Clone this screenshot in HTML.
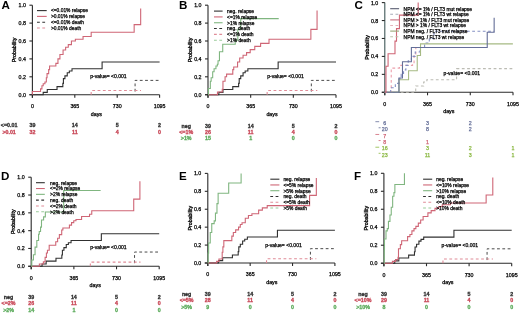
<!DOCTYPE html>
<html><head><meta charset="utf-8"><style>
html,body{margin:0;padding:0;background:#fff;width:520px;height:313px;overflow:hidden}
svg{display:block;will-change:transform}
text{font-family:"Liberation Sans", sans-serif}
</style></head><body>
<svg width="520" height="313" viewBox="0 0 520 313">
<rect width="520" height="313" fill="#fff"/>
<text x="1.6" y="9.48" font-size="11.6" text-anchor="start" fill="#000" stroke="#000" stroke-width="0" font-weight="bold">A</text>
<line x1="32.4" y1="5.2" x2="32.4" y2="97.7" stroke="#2a2a2a" stroke-width="1.1"/>
<line x1="29.4" y1="94.7" x2="32.4" y2="94.7" stroke="#2a2a2a" stroke-width="1.1"/>
<text x="25.9" y="96.68" font-size="5.3" text-anchor="end" fill="#000" stroke="#000" stroke-width="0.25" font-weight="normal">0.0</text>
<line x1="29.4" y1="76.8" x2="32.4" y2="76.8" stroke="#2a2a2a" stroke-width="1.1"/>
<text x="25.9" y="78.78" font-size="5.3" text-anchor="end" fill="#000" stroke="#000" stroke-width="0.25" font-weight="normal">0.2</text>
<line x1="29.4" y1="58.9" x2="32.4" y2="58.9" stroke="#2a2a2a" stroke-width="1.1"/>
<text x="25.9" y="60.88" font-size="5.3" text-anchor="end" fill="#000" stroke="#000" stroke-width="0.25" font-weight="normal">0.4</text>
<line x1="29.4" y1="41" x2="32.4" y2="41" stroke="#2a2a2a" stroke-width="1.1"/>
<text x="25.9" y="42.98" font-size="5.3" text-anchor="end" fill="#000" stroke="#000" stroke-width="0.25" font-weight="normal">0.6</text>
<line x1="29.4" y1="23.1" x2="32.4" y2="23.1" stroke="#2a2a2a" stroke-width="1.1"/>
<text x="25.9" y="25.08" font-size="5.3" text-anchor="end" fill="#000" stroke="#000" stroke-width="0.25" font-weight="normal">0.8</text>
<line x1="29.4" y1="5.2" x2="32.4" y2="5.2" stroke="#2a2a2a" stroke-width="1.1"/>
<text x="25.9" y="7.18" font-size="5.3" text-anchor="end" fill="#000" stroke="#000" stroke-width="0.25" font-weight="normal">1.0</text>
<line x1="29.4" y1="94.7" x2="159.6" y2="94.7" stroke="#2a2a2a" stroke-width="1.1"/>
<line x1="32.4" y1="94.7" x2="32.4" y2="97.7" stroke="#2a2a2a" stroke-width="1.1"/>
<text x="32.4" y="108.13" font-size="5.3" text-anchor="middle" fill="#000" stroke="#000" stroke-width="0.25" font-weight="normal">0</text>
<line x1="74.8" y1="94.7" x2="74.8" y2="97.7" stroke="#2a2a2a" stroke-width="1.1"/>
<text x="74.8" y="108.13" font-size="5.3" text-anchor="middle" fill="#000" stroke="#000" stroke-width="0.25" font-weight="normal">365</text>
<line x1="117.2" y1="94.7" x2="117.2" y2="97.7" stroke="#2a2a2a" stroke-width="1.1"/>
<text x="117.2" y="108.13" font-size="5.3" text-anchor="middle" fill="#000" stroke="#000" stroke-width="0.25" font-weight="normal">730</text>
<line x1="159.6" y1="94.7" x2="159.6" y2="97.7" stroke="#2a2a2a" stroke-width="1.1"/>
<text x="159.6" y="108.13" font-size="5.3" text-anchor="middle" fill="#000" stroke="#000" stroke-width="0.25" font-weight="normal">1095</text>
<text x="96.4" y="115.78" font-size="5.3" text-anchor="middle" fill="#000" stroke="#000" stroke-width="0.25" font-weight="normal">days</text>
<text x="0" y="0" font-size="5.3" text-anchor="middle" fill="#000" stroke="#000" stroke-width="0.3" transform="translate(16.1 49.95) rotate(-90)">Probability</text>
<path d="M135.09 91.57H135.09V80.38H159.6" fill="none" stroke="#4a4a4a" stroke-width="1" stroke-dasharray="2.8 2.5"/>
<path d="M91.18 94.7H91.18V90.49H141.01" fill="none" stroke="#e08c98" stroke-width="1.1" stroke-dasharray="2.8 2.5"/>
<path d="M32.4 94.7H43.2V92.37H47.27V89.51H57.03V86.65H62.84V83.33H63.42V78.59H64.93V75.91H67.25V72.77H69.34V70.98H72.01V68.75H102.1V61.94H159.6" fill="none" stroke="#303030" stroke-width="1.1"/>
<path d="M32.4 94.7H32.4V91.57H40.53V88.88H41.93V85.75H43.2V83.78H44.95V81.99H46.34V77.7H47.04V73.67H48.66V69.64H49.59V66.06H55.87V63.38H57.96V58.9H59.93V54.43H63.07V49.95H65.62V47.27H68.29V44.58H71.43V41H75.38V39.21H83.05V36.44H91.18V32.32H134.16V24.62H140.67V8.51" fill="none" stroke="#cf6676" stroke-width="1.1"/>
<line x1="37" y1="10.6" x2="46.7" y2="10.6" stroke="#303030" stroke-width="1.1"/>
<text x="50.9" y="12.48" font-size="4.9" text-anchor="start" fill="#000" stroke="#000" stroke-width="0.25" font-weight="normal">&lt;=0.01% relapse</text>
<line x1="37" y1="16.4" x2="46.7" y2="16.4" stroke="#cf6676" stroke-width="1.1"/>
<text x="50.9" y="18.28" font-size="4.9" text-anchor="start" fill="#000" stroke="#000" stroke-width="0.25" font-weight="normal">&gt;0.01% relapse</text>
<line x1="37" y1="22.2" x2="46.7" y2="22.2" stroke="#303030" stroke-width="1.1" stroke-dasharray="2.8 2.5"/>
<text x="50.9" y="24.08" font-size="4.9" text-anchor="start" fill="#000" stroke="#000" stroke-width="0.25" font-weight="normal">&lt;=0.01% death</text>
<line x1="37" y1="28" x2="46.7" y2="28" stroke="#e08c98" stroke-width="1.1" stroke-dasharray="2.8 2.5"/>
<text x="50.9" y="29.88" font-size="4.9" text-anchor="start" fill="#000" stroke="#000" stroke-width="0.25" font-weight="normal">&gt;0.01% death</text>
<text x="90.2" y="77.68" font-size="5.05" text-anchor="start" fill="#000" stroke="#000" stroke-width="0.25" font-weight="normal">p-value= &lt;0.001</text>
<text x="9.1" y="127.38" font-size="5.3" text-anchor="middle" fill="#303030" stroke="#303030" stroke-width="0.3" font-weight="bold">&lt;=0.01</text>
<text x="32.4" y="127.38" font-size="5.3" text-anchor="middle" fill="#303030" stroke="#303030" stroke-width="0.3" font-weight="bold">39</text>
<text x="74.8" y="127.38" font-size="5.3" text-anchor="middle" fill="#303030" stroke="#303030" stroke-width="0.3" font-weight="bold">14</text>
<text x="117.2" y="127.38" font-size="5.3" text-anchor="middle" fill="#303030" stroke="#303030" stroke-width="0.3" font-weight="bold">5</text>
<text x="159.6" y="127.38" font-size="5.3" text-anchor="middle" fill="#303030" stroke="#303030" stroke-width="0.3" font-weight="bold">2</text>
<text x="9.1" y="133.68" font-size="5.3" text-anchor="middle" fill="#c84656" stroke="#c84656" stroke-width="0.3" font-weight="bold">&gt;0.01</text>
<text x="32.4" y="133.68" font-size="5.3" text-anchor="middle" fill="#c84656" stroke="#c84656" stroke-width="0.3" font-weight="bold">32</text>
<text x="74.8" y="133.68" font-size="5.3" text-anchor="middle" fill="#c84656" stroke="#c84656" stroke-width="0.3" font-weight="bold">11</text>
<text x="117.2" y="133.68" font-size="5.3" text-anchor="middle" fill="#c84656" stroke="#c84656" stroke-width="0.3" font-weight="bold">4</text>
<text x="159.6" y="133.68" font-size="5.3" text-anchor="middle" fill="#c84656" stroke="#c84656" stroke-width="0.3" font-weight="bold">0</text>
<text x="179" y="9.48" font-size="11.6" text-anchor="start" fill="#000" stroke="#000" stroke-width="0" font-weight="bold">B</text>
<line x1="208" y1="5.2" x2="208" y2="97.7" stroke="#2a2a2a" stroke-width="1.1"/>
<line x1="205" y1="94.7" x2="208" y2="94.7" stroke="#2a2a2a" stroke-width="1.1"/>
<text x="201.5" y="96.68" font-size="5.3" text-anchor="end" fill="#000" stroke="#000" stroke-width="0.25" font-weight="normal">0.0</text>
<line x1="205" y1="76.8" x2="208" y2="76.8" stroke="#2a2a2a" stroke-width="1.1"/>
<text x="201.5" y="78.78" font-size="5.3" text-anchor="end" fill="#000" stroke="#000" stroke-width="0.25" font-weight="normal">0.2</text>
<line x1="205" y1="58.9" x2="208" y2="58.9" stroke="#2a2a2a" stroke-width="1.1"/>
<text x="201.5" y="60.88" font-size="5.3" text-anchor="end" fill="#000" stroke="#000" stroke-width="0.25" font-weight="normal">0.4</text>
<line x1="205" y1="41" x2="208" y2="41" stroke="#2a2a2a" stroke-width="1.1"/>
<text x="201.5" y="42.98" font-size="5.3" text-anchor="end" fill="#000" stroke="#000" stroke-width="0.25" font-weight="normal">0.6</text>
<line x1="205" y1="23.1" x2="208" y2="23.1" stroke="#2a2a2a" stroke-width="1.1"/>
<text x="201.5" y="25.08" font-size="5.3" text-anchor="end" fill="#000" stroke="#000" stroke-width="0.25" font-weight="normal">0.8</text>
<line x1="205" y1="5.2" x2="208" y2="5.2" stroke="#2a2a2a" stroke-width="1.1"/>
<text x="201.5" y="7.18" font-size="5.3" text-anchor="end" fill="#000" stroke="#000" stroke-width="0.25" font-weight="normal">1.0</text>
<line x1="205" y1="94.7" x2="336" y2="94.7" stroke="#2a2a2a" stroke-width="1.1"/>
<line x1="208" y1="94.7" x2="208" y2="97.7" stroke="#2a2a2a" stroke-width="1.1"/>
<text x="208" y="108.13" font-size="5.3" text-anchor="middle" fill="#000" stroke="#000" stroke-width="0.25" font-weight="normal">0</text>
<line x1="250.67" y1="94.7" x2="250.67" y2="97.7" stroke="#2a2a2a" stroke-width="1.1"/>
<text x="250.67" y="108.13" font-size="5.3" text-anchor="middle" fill="#000" stroke="#000" stroke-width="0.25" font-weight="normal">365</text>
<line x1="293.33" y1="94.7" x2="293.33" y2="97.7" stroke="#2a2a2a" stroke-width="1.1"/>
<text x="293.33" y="108.13" font-size="5.3" text-anchor="middle" fill="#000" stroke="#000" stroke-width="0.25" font-weight="normal">730</text>
<line x1="336" y1="94.7" x2="336" y2="97.7" stroke="#2a2a2a" stroke-width="1.1"/>
<text x="336" y="108.13" font-size="5.3" text-anchor="middle" fill="#000" stroke="#000" stroke-width="0.25" font-weight="normal">1095</text>
<text x="272" y="115.78" font-size="5.3" text-anchor="middle" fill="#000" stroke="#000" stroke-width="0.25" font-weight="normal">days</text>
<text x="0" y="0" font-size="5.3" text-anchor="middle" fill="#000" stroke="#000" stroke-width="0.3" transform="translate(191.7 49.95) rotate(-90)">Probability</text>
<path d="M311.34 91.57H311.34V80.38H336" fill="none" stroke="#4a4a4a" stroke-width="1" stroke-dasharray="2.8 2.5"/>
<path d="M267.15 94.7H267.15V90.49H317.3" fill="none" stroke="#e08c98" stroke-width="1.1" stroke-dasharray="2.8 2.5"/>
<path d="M208 94.7H218.87V92.37H222.96V89.51H232.78V86.65H238.63V83.33H239.21V78.59H240.73V75.91H243.07V72.77H245.17V70.98H247.86V68.75H278.14V61.94H336" fill="none" stroke="#303030" stroke-width="1.1"/>
<path d="M208 94.7H217.47V92.02H222.26V89.33H222.96V81.28H225.07V76.8H226.59V74.12H232.78V69.64H233.72V66.95H234.89V66.95H237.57V62.03H239.68V58.01H243.07V55.32H246.58V52.64H250.2V49.59H254.76V46.37H260.6V43.33H269.02V39.21H310.87V29.37H317.06V10.57" fill="none" stroke="#cf6676" stroke-width="1.1"/>
<path d="M208 94.7H208.47V88.44H210.34V81.28H211.16V77.7H212.68V71.79H214.08V68.75H215.95V66.06H217.35V64.27H218.05V60.69H219.46V51.74H222.73V44.31H235.24V40.11H237.81V29.37H240.73V18.62H278.72" fill="none" stroke="#80b680" stroke-width="1.1"/>
<line x1="214" y1="11.1" x2="222.6" y2="11.1" stroke="#303030" stroke-width="1.1"/>
<text x="227.1" y="12.98" font-size="4.9" text-anchor="start" fill="#000" stroke="#000" stroke-width="0.25" font-weight="normal">neg. relapse</text>
<line x1="214" y1="16.92" x2="222.6" y2="16.92" stroke="#cf6676" stroke-width="1.1"/>
<text x="227.1" y="18.8" font-size="4.9" text-anchor="start" fill="#000" stroke="#000" stroke-width="0.25" font-weight="normal">&lt;=1% relapse</text>
<line x1="214" y1="22.74" x2="222.6" y2="22.74" stroke="#80b680" stroke-width="1.1"/>
<text x="227.1" y="24.62" font-size="4.9" text-anchor="start" fill="#000" stroke="#000" stroke-width="0.25" font-weight="normal">&gt;1% relapse</text>
<line x1="214" y1="28.56" x2="222.6" y2="28.56" stroke="#303030" stroke-width="1.1" stroke-dasharray="2.8 2.5"/>
<text x="227.1" y="30.44" font-size="4.9" text-anchor="start" fill="#000" stroke="#000" stroke-width="0.25" font-weight="normal">neg. death</text>
<line x1="214" y1="34.38" x2="222.6" y2="34.38" stroke="#e08c98" stroke-width="1.1" stroke-dasharray="2.8 2.5"/>
<text x="227.1" y="36.26" font-size="4.9" text-anchor="start" fill="#000" stroke="#000" stroke-width="0.25" font-weight="normal">&lt;=1% death</text>
<line x1="214" y1="40.2" x2="222.6" y2="40.2" stroke="#9acc9a" stroke-width="1.1" stroke-dasharray="2.8 2.5"/>
<text x="227.1" y="42.08" font-size="4.9" text-anchor="start" fill="#000" stroke="#000" stroke-width="0.25" font-weight="normal">&gt;1% death</text>
<text x="267.3" y="78.08" font-size="5.05" text-anchor="start" fill="#000" stroke="#000" stroke-width="0.25" font-weight="normal">p-value= &lt;0.001</text>
<text x="186.2" y="127.88" font-size="5.3" text-anchor="middle" fill="#303030" stroke="#303030" stroke-width="0.3" font-weight="bold">neg</text>
<text x="208" y="127.88" font-size="5.3" text-anchor="middle" fill="#303030" stroke="#303030" stroke-width="0.3" font-weight="bold">39</text>
<text x="250.67" y="127.88" font-size="5.3" text-anchor="middle" fill="#303030" stroke="#303030" stroke-width="0.3" font-weight="bold">14</text>
<text x="293.33" y="127.88" font-size="5.3" text-anchor="middle" fill="#303030" stroke="#303030" stroke-width="0.3" font-weight="bold">5</text>
<text x="336" y="127.88" font-size="5.3" text-anchor="middle" fill="#303030" stroke="#303030" stroke-width="0.3" font-weight="bold">2</text>
<text x="186.2" y="134.18" font-size="5.3" text-anchor="middle" fill="#c84656" stroke="#c84656" stroke-width="0.3" font-weight="bold">&lt;=1%</text>
<text x="208" y="134.18" font-size="5.3" text-anchor="middle" fill="#c84656" stroke="#c84656" stroke-width="0.3" font-weight="bold">26</text>
<text x="250.67" y="134.18" font-size="5.3" text-anchor="middle" fill="#c84656" stroke="#c84656" stroke-width="0.3" font-weight="bold">11</text>
<text x="293.33" y="134.18" font-size="5.3" text-anchor="middle" fill="#c84656" stroke="#c84656" stroke-width="0.3" font-weight="bold">4</text>
<text x="336" y="134.18" font-size="5.3" text-anchor="middle" fill="#c84656" stroke="#c84656" stroke-width="0.3" font-weight="bold">0</text>
<text x="186.2" y="140.48" font-size="5.3" text-anchor="middle" fill="#5aaa5a" stroke="#5aaa5a" stroke-width="0.3" font-weight="bold">&gt;1%</text>
<text x="208" y="140.48" font-size="5.3" text-anchor="middle" fill="#5aaa5a" stroke="#5aaa5a" stroke-width="0.3" font-weight="bold">15</text>
<text x="250.67" y="140.48" font-size="5.3" text-anchor="middle" fill="#5aaa5a" stroke="#5aaa5a" stroke-width="0.3" font-weight="bold">1</text>
<text x="293.33" y="140.48" font-size="5.3" text-anchor="middle" fill="#5aaa5a" stroke="#5aaa5a" stroke-width="0.3" font-weight="bold">0</text>
<text x="336" y="140.48" font-size="5.3" text-anchor="middle" fill="#5aaa5a" stroke="#5aaa5a" stroke-width="0.3" font-weight="bold">0</text>
<text x="354.4" y="9.48" font-size="11.6" text-anchor="start" fill="#000" stroke="#000" stroke-width="0" font-weight="bold">C</text>
<line x1="384.8" y1="2.6" x2="384.8" y2="95.3" stroke="#3f5757" stroke-width="1.1"/>
<line x1="381.8" y1="92.3" x2="384.8" y2="92.3" stroke="#2a2a2a" stroke-width="1.1"/>
<text x="378.3" y="94.28" font-size="5.3" text-anchor="end" fill="#000" stroke="#000" stroke-width="0.25" font-weight="normal">0.0</text>
<line x1="381.8" y1="74.36" x2="384.8" y2="74.36" stroke="#2a2a2a" stroke-width="1.1"/>
<text x="378.3" y="76.34" font-size="5.3" text-anchor="end" fill="#000" stroke="#000" stroke-width="0.25" font-weight="normal">0.2</text>
<line x1="381.8" y1="56.42" x2="384.8" y2="56.42" stroke="#2a2a2a" stroke-width="1.1"/>
<text x="378.3" y="58.4" font-size="5.3" text-anchor="end" fill="#000" stroke="#000" stroke-width="0.25" font-weight="normal">0.4</text>
<line x1="381.8" y1="38.48" x2="384.8" y2="38.48" stroke="#2a2a2a" stroke-width="1.1"/>
<text x="378.3" y="40.46" font-size="5.3" text-anchor="end" fill="#000" stroke="#000" stroke-width="0.25" font-weight="normal">0.6</text>
<line x1="381.8" y1="20.54" x2="384.8" y2="20.54" stroke="#2a2a2a" stroke-width="1.1"/>
<text x="378.3" y="22.52" font-size="5.3" text-anchor="end" fill="#000" stroke="#000" stroke-width="0.25" font-weight="normal">0.8</text>
<line x1="381.8" y1="2.6" x2="384.8" y2="2.6" stroke="#2a2a2a" stroke-width="1.1"/>
<text x="378.3" y="4.58" font-size="5.3" text-anchor="end" fill="#000" stroke="#000" stroke-width="0.25" font-weight="normal">1.0</text>
<line x1="381.8" y1="92.3" x2="513" y2="92.3" stroke="#2a2a2a" stroke-width="1.1"/>
<line x1="384.8" y1="92.3" x2="384.8" y2="95.3" stroke="#2a2a2a" stroke-width="1.1"/>
<text x="384.8" y="105.73" font-size="5.3" text-anchor="middle" fill="#000" stroke="#000" stroke-width="0.25" font-weight="normal">0</text>
<line x1="427.53" y1="92.3" x2="427.53" y2="95.3" stroke="#2a2a2a" stroke-width="1.1"/>
<text x="427.53" y="105.73" font-size="5.3" text-anchor="middle" fill="#000" stroke="#000" stroke-width="0.25" font-weight="normal">365</text>
<line x1="470.27" y1="92.3" x2="470.27" y2="95.3" stroke="#2a2a2a" stroke-width="1.1"/>
<text x="470.27" y="105.73" font-size="5.3" text-anchor="middle" fill="#000" stroke="#000" stroke-width="0.25" font-weight="normal">730</text>
<line x1="513" y1="92.3" x2="513" y2="95.3" stroke="#2a2a2a" stroke-width="1.1"/>
<text x="513" y="105.73" font-size="5.3" text-anchor="middle" fill="#000" stroke="#000" stroke-width="0.25" font-weight="normal">1095</text>
<text x="448.8" y="113.38" font-size="5.3" text-anchor="middle" fill="#000" stroke="#000" stroke-width="0.25" font-weight="normal">days</text>
<text x="0" y="0" font-size="5.3" text-anchor="middle" fill="#000" stroke="#000" stroke-width="0.3" transform="translate(368.5 47.45) rotate(-90)">Probability</text>
<path d="M384.8 92.3H415.71V86.02H423.67V81.98H426.83V79.74H456.57V68.62H513.59" fill="none" stroke="#bcbcb4" stroke-width="1.1" stroke-dasharray="2.8 2.5"/>
<path d="M384.8 92.3H391.24V68.08H399.43V65.39H412.55V62.7H414.07V54.63H415.83V47.45H419.92" fill="none" stroke="#eca0ac" stroke-width="1.1" stroke-dasharray="2.8 2.5"/>
<path d="M384.8 92.3H390.65V87.81H395.34V83.33H398.97V78.84H401.19V74.36H403.53V69.88H405.87V65.39H408.22V60.91H411.38V56.42H415.24V51.93H419.92V47.45H424.61V42.96H429.29V38.48H433.97V31.3H494.27" fill="none" stroke="#8490c4" stroke-width="1.1" stroke-dasharray="2.8 2.5"/>
<path d="M384.8 92.3H398.97V79.74H408.57V70.77H417.23V55.52H420.51V43.86H512.88" fill="none" stroke="#a6ba84" stroke-width="1.1"/>
<path d="M384.8 92.3H398.97V77.95H402.48V61.8H411.38V47.45H487.24V32.2H494.15V17.85" fill="none" stroke="#646e98" stroke-width="1.1"/>
<path d="M384.8 92.3H385.97V66.29H388.08V53.73H394.99V41.17H396.51V28.61H399.43V15.16H418.17V2.6" fill="none" stroke="#cf6676" stroke-width="1.1"/>
<line x1="390.2" y1="8.7" x2="399.1" y2="8.7" stroke="#585c70" stroke-width="1.1"/>
<text x="403.6" y="10.58" font-size="4.9" text-anchor="start" fill="#000" stroke="#000" stroke-width="0.25" font-weight="normal">NPM &lt;= 1% / FLT3 mut relapse</text>
<line x1="390.2" y1="14.3" x2="399.1" y2="14.3" stroke="#a8acb8" stroke-width="1.1" stroke-dasharray="2.8 2.5"/>
<text x="403.6" y="16.18" font-size="4.9" text-anchor="start" fill="#000" stroke="#000" stroke-width="0.25" font-weight="normal">NPM &lt;= 1% / FLT3 wt relapse</text>
<line x1="390.2" y1="19.9" x2="399.1" y2="19.9" stroke="#c87080" stroke-width="1.1"/>
<text x="403.6" y="21.78" font-size="4.9" text-anchor="start" fill="#000" stroke="#000" stroke-width="0.25" font-weight="normal">NPM &gt; 1% / FLT3 mut relapse</text>
<line x1="390.2" y1="25.5" x2="399.1" y2="25.5" stroke="#e4b4bc" stroke-width="1.1" stroke-dasharray="2.8 2.5"/>
<text x="403.6" y="27.38" font-size="4.9" text-anchor="start" fill="#000" stroke="#000" stroke-width="0.25" font-weight="normal">NPM &gt; 1% / FLT3 wt relapse</text>
<line x1="390.2" y1="31.1" x2="399.1" y2="31.1" stroke="#98a878" stroke-width="1.1"/>
<text x="403.6" y="32.98" font-size="4.9" text-anchor="start" fill="#000" stroke="#000" stroke-width="0.25" font-weight="normal">NPM neg. / FLT3 mut relapse</text>
<line x1="390.2" y1="36.7" x2="399.1" y2="36.7" stroke="#bcc4ac" stroke-width="1.1" stroke-dasharray="2.8 2.5"/>
<text x="403.6" y="38.58" font-size="4.9" text-anchor="start" fill="#000" stroke="#000" stroke-width="0.25" font-weight="normal">NPM neg. / FLT3 wt relapse</text>
<text x="443.6" y="75.38" font-size="5.05" text-anchor="start" fill="#000" stroke="#000" stroke-width="0.25" font-weight="normal">p-value= &lt;0.001</text>
<text x="384.8" y="124.78" font-size="5.3" text-anchor="middle" fill="#646e98" stroke="#646e98" stroke-width="0.25" font-weight="normal">6</text>
<text x="427.53" y="124.78" font-size="5.3" text-anchor="middle" fill="#646e98" stroke="#646e98" stroke-width="0.25" font-weight="normal">3</text>
<text x="470.27" y="124.78" font-size="5.3" text-anchor="middle" fill="#646e98" stroke="#646e98" stroke-width="0.25" font-weight="normal">2</text>
<line x1="375.4" y1="121.7" x2="379.2" y2="121.7" stroke="#646e98" stroke-width="0.8"/>
<text x="384.8" y="131.16" font-size="5.3" text-anchor="middle" fill="#646e98" stroke="#646e98" stroke-width="0.25" font-weight="normal">20</text>
<text x="427.53" y="131.16" font-size="5.3" text-anchor="middle" fill="#646e98" stroke="#646e98" stroke-width="0.25" font-weight="normal">8</text>
<text x="470.27" y="131.16" font-size="5.3" text-anchor="middle" fill="#646e98" stroke="#646e98" stroke-width="0.25" font-weight="normal">2</text>
<line x1="378.6" y1="127.78" x2="380.6" y2="127.78" stroke="#646e98" stroke-width="0.8"/>
<text x="384.8" y="137.54" font-size="5.3" text-anchor="middle" fill="#cf6676" stroke="#cf6676" stroke-width="0.25" font-weight="normal">7</text>
<line x1="375.4" y1="134.46" x2="379.2" y2="134.46" stroke="#cf6676" stroke-width="0.8"/>
<text x="384.8" y="143.92" font-size="5.3" text-anchor="middle" fill="#cf6676" stroke="#cf6676" stroke-width="0.25" font-weight="normal">8</text>
<text x="427.53" y="143.92" font-size="5.3" text-anchor="middle" fill="#cf6676" stroke="#cf6676" stroke-width="0.25" font-weight="normal">1</text>
<line x1="378.6" y1="140.54" x2="380.6" y2="140.54" stroke="#cf6676" stroke-width="0.8"/>
<text x="384.8" y="150.3" font-size="5.3" text-anchor="middle" fill="#8ab840" stroke="#8ab840" stroke-width="0.25" font-weight="normal">16</text>
<text x="427.53" y="150.3" font-size="5.3" text-anchor="middle" fill="#8ab840" stroke="#8ab840" stroke-width="0.25" font-weight="normal">3</text>
<text x="470.27" y="150.3" font-size="5.3" text-anchor="middle" fill="#8ab840" stroke="#8ab840" stroke-width="0.25" font-weight="normal">2</text>
<text x="513" y="150.3" font-size="5.3" text-anchor="middle" fill="#8ab840" stroke="#8ab840" stroke-width="0.25" font-weight="normal">1</text>
<line x1="375.4" y1="147.22" x2="379.2" y2="147.22" stroke="#8ab840" stroke-width="0.8"/>
<text x="384.8" y="156.68" font-size="5.3" text-anchor="middle" fill="#8ab840" stroke="#8ab840" stroke-width="0.25" font-weight="normal">23</text>
<text x="427.53" y="156.68" font-size="5.3" text-anchor="middle" fill="#8ab840" stroke="#8ab840" stroke-width="0.25" font-weight="normal">11</text>
<text x="470.27" y="156.68" font-size="5.3" text-anchor="middle" fill="#8ab840" stroke="#8ab840" stroke-width="0.25" font-weight="normal">3</text>
<text x="513" y="156.68" font-size="5.3" text-anchor="middle" fill="#8ab840" stroke="#8ab840" stroke-width="0.25" font-weight="normal">1</text>
<line x1="378.6" y1="153.3" x2="380.6" y2="153.3" stroke="#8ab840" stroke-width="0.8"/>
<text x="0.9" y="179.78" font-size="11.6" text-anchor="start" fill="#000" stroke="#000" stroke-width="0" font-weight="bold">D</text>
<line x1="31.2" y1="177.2" x2="31.2" y2="269.3" stroke="#2a2a2a" stroke-width="1.1"/>
<line x1="28.2" y1="266.3" x2="31.2" y2="266.3" stroke="#2a2a2a" stroke-width="1.1"/>
<text x="24.7" y="268.28" font-size="5.3" text-anchor="end" fill="#000" stroke="#000" stroke-width="0.25" font-weight="normal">0.0</text>
<line x1="28.2" y1="248.48" x2="31.2" y2="248.48" stroke="#2a2a2a" stroke-width="1.1"/>
<text x="24.7" y="250.46" font-size="5.3" text-anchor="end" fill="#000" stroke="#000" stroke-width="0.25" font-weight="normal">0.2</text>
<line x1="28.2" y1="230.66" x2="31.2" y2="230.66" stroke="#2a2a2a" stroke-width="1.1"/>
<text x="24.7" y="232.64" font-size="5.3" text-anchor="end" fill="#000" stroke="#000" stroke-width="0.25" font-weight="normal">0.4</text>
<line x1="28.2" y1="212.84" x2="31.2" y2="212.84" stroke="#2a2a2a" stroke-width="1.1"/>
<text x="24.7" y="214.82" font-size="5.3" text-anchor="end" fill="#000" stroke="#000" stroke-width="0.25" font-weight="normal">0.6</text>
<line x1="28.2" y1="195.02" x2="31.2" y2="195.02" stroke="#2a2a2a" stroke-width="1.1"/>
<text x="24.7" y="197" font-size="5.3" text-anchor="end" fill="#000" stroke="#000" stroke-width="0.25" font-weight="normal">0.8</text>
<line x1="28.2" y1="177.2" x2="31.2" y2="177.2" stroke="#2a2a2a" stroke-width="1.1"/>
<text x="24.7" y="179.18" font-size="5.3" text-anchor="end" fill="#000" stroke="#000" stroke-width="0.25" font-weight="normal">1.0</text>
<line x1="28.2" y1="266.3" x2="159.2" y2="266.3" stroke="#2a2a2a" stroke-width="1.1"/>
<line x1="31.2" y1="266.3" x2="31.2" y2="269.3" stroke="#2a2a2a" stroke-width="1.1"/>
<text x="31.2" y="279.73" font-size="5.3" text-anchor="middle" fill="#000" stroke="#000" stroke-width="0.25" font-weight="normal">0</text>
<line x1="73.87" y1="266.3" x2="73.87" y2="269.3" stroke="#2a2a2a" stroke-width="1.1"/>
<text x="73.87" y="279.73" font-size="5.3" text-anchor="middle" fill="#000" stroke="#000" stroke-width="0.25" font-weight="normal">365</text>
<line x1="116.53" y1="266.3" x2="116.53" y2="269.3" stroke="#2a2a2a" stroke-width="1.1"/>
<text x="116.53" y="279.73" font-size="5.3" text-anchor="middle" fill="#000" stroke="#000" stroke-width="0.25" font-weight="normal">730</text>
<line x1="159.2" y1="266.3" x2="159.2" y2="269.3" stroke="#2a2a2a" stroke-width="1.1"/>
<text x="159.2" y="279.73" font-size="5.3" text-anchor="middle" fill="#000" stroke="#000" stroke-width="0.25" font-weight="normal">1095</text>
<text x="95.2" y="287.38" font-size="5.3" text-anchor="middle" fill="#000" stroke="#000" stroke-width="0.25" font-weight="normal">days</text>
<text x="0" y="0" font-size="5.3" text-anchor="middle" fill="#000" stroke="#000" stroke-width="0.3" transform="translate(14.9 221.75) rotate(-90)">Probability</text>
<path d="M134.54 263.18H134.54V252.04H159.2" fill="none" stroke="#4a4a4a" stroke-width="1" stroke-dasharray="2.8 2.5"/>
<path d="M90.35 266.3H90.35V262.11H140.5" fill="none" stroke="#e08c98" stroke-width="1.1" stroke-dasharray="2.8 2.5"/>
<path d="M31.2 266.3H42.07V263.98H46.16V261.13H55.98V258.28H61.83V254.98H62.41V250.26H63.93V247.59H66.27V244.47H68.37V242.69H71.06V240.46H101.34V233.69H159.2" fill="none" stroke="#303030" stroke-width="1.1"/>
<path d="M31.2 266.3H39.38V264.07H43.36V261.85H45.11V257.39H46.4V252.94H47.45V250.26H49.2V245.27H55.75V241.8H57.62V238.32H59.37V234.67H61.71V230.04H62.88V227.99H69.42V225.14H71.53V222.64H73.75V220.77H75.97V219.43H81.58V216.49H89.53V214.27H91.75V210.7H133.72V199.12H139.91V181.21" fill="none" stroke="#cf6676" stroke-width="1.1"/>
<path d="M31.2 266.3H31.78V260.06H33.42V254.72H35.06V247.14H36.81V240.46H38.56V234.22H39.27V231.55H40.55V227.1H41.49V219.97H43.59V216.85H45.34V211.95H63.7V190.56H100.64" fill="none" stroke="#80b680" stroke-width="1.1"/>
<line x1="36" y1="182.7" x2="44.8" y2="182.7" stroke="#303030" stroke-width="1.1"/>
<text x="50.1" y="184.58" font-size="4.9" text-anchor="start" fill="#000" stroke="#000" stroke-width="0.25" font-weight="normal">neg. relapse</text>
<line x1="36" y1="188.52" x2="44.8" y2="188.52" stroke="#cf6676" stroke-width="1.1"/>
<text x="50.1" y="190.4" font-size="4.9" text-anchor="start" fill="#000" stroke="#000" stroke-width="0.25" font-weight="normal">&lt;=2% relapse</text>
<line x1="36" y1="194.34" x2="44.8" y2="194.34" stroke="#80b680" stroke-width="1.1"/>
<text x="50.1" y="196.22" font-size="4.9" text-anchor="start" fill="#000" stroke="#000" stroke-width="0.25" font-weight="normal">&gt;2% relapse</text>
<line x1="36" y1="200.16" x2="44.8" y2="200.16" stroke="#303030" stroke-width="1.1" stroke-dasharray="2.8 2.5"/>
<text x="50.1" y="202.04" font-size="4.9" text-anchor="start" fill="#000" stroke="#000" stroke-width="0.25" font-weight="normal">neg. death</text>
<line x1="36" y1="205.98" x2="44.8" y2="205.98" stroke="#e08c98" stroke-width="1.1" stroke-dasharray="2.8 2.5"/>
<text x="50.1" y="207.86" font-size="4.9" text-anchor="start" fill="#000" stroke="#000" stroke-width="0.25" font-weight="normal">&lt;=2% death</text>
<line x1="36" y1="211.8" x2="44.8" y2="211.8" stroke="#9acc9a" stroke-width="1.1" stroke-dasharray="2.8 2.5"/>
<text x="50.1" y="213.68" font-size="4.9" text-anchor="start" fill="#000" stroke="#000" stroke-width="0.25" font-weight="normal">&gt;2% death</text>
<text x="90.2" y="249.28" font-size="5.05" text-anchor="start" fill="#000" stroke="#000" stroke-width="0.25" font-weight="normal">p-value= &lt;0.001</text>
<text x="8.5" y="299.28" font-size="5.3" text-anchor="middle" fill="#303030" stroke="#303030" stroke-width="0.3" font-weight="bold">neg</text>
<text x="31.2" y="299.28" font-size="5.3" text-anchor="middle" fill="#303030" stroke="#303030" stroke-width="0.3" font-weight="bold">39</text>
<text x="73.87" y="299.28" font-size="5.3" text-anchor="middle" fill="#303030" stroke="#303030" stroke-width="0.3" font-weight="bold">14</text>
<text x="116.53" y="299.28" font-size="5.3" text-anchor="middle" fill="#303030" stroke="#303030" stroke-width="0.3" font-weight="bold">5</text>
<text x="159.2" y="299.28" font-size="5.3" text-anchor="middle" fill="#303030" stroke="#303030" stroke-width="0.3" font-weight="bold">2</text>
<text x="8.5" y="305.43" font-size="5.3" text-anchor="middle" fill="#c84656" stroke="#c84656" stroke-width="0.3" font-weight="bold">&lt;=2%</text>
<text x="31.2" y="305.43" font-size="5.3" text-anchor="middle" fill="#c84656" stroke="#c84656" stroke-width="0.3" font-weight="bold">26</text>
<text x="73.87" y="305.43" font-size="5.3" text-anchor="middle" fill="#c84656" stroke="#c84656" stroke-width="0.3" font-weight="bold">11</text>
<text x="116.53" y="305.43" font-size="5.3" text-anchor="middle" fill="#c84656" stroke="#c84656" stroke-width="0.3" font-weight="bold">4</text>
<text x="159.2" y="305.43" font-size="5.3" text-anchor="middle" fill="#c84656" stroke="#c84656" stroke-width="0.3" font-weight="bold">0</text>
<text x="8.5" y="311.58" font-size="5.3" text-anchor="middle" fill="#5aaa5a" stroke="#5aaa5a" stroke-width="0.3" font-weight="bold">&gt;2%</text>
<text x="31.2" y="311.58" font-size="5.3" text-anchor="middle" fill="#5aaa5a" stroke="#5aaa5a" stroke-width="0.3" font-weight="bold">14</text>
<text x="73.87" y="311.58" font-size="5.3" text-anchor="middle" fill="#5aaa5a" stroke="#5aaa5a" stroke-width="0.3" font-weight="bold">1</text>
<text x="116.53" y="311.58" font-size="5.3" text-anchor="middle" fill="#5aaa5a" stroke="#5aaa5a" stroke-width="0.3" font-weight="bold">0</text>
<text x="159.2" y="311.58" font-size="5.3" text-anchor="middle" fill="#5aaa5a" stroke="#5aaa5a" stroke-width="0.3" font-weight="bold">0</text>
<text x="178.9" y="180.08" font-size="11.6" text-anchor="start" fill="#000" stroke="#000" stroke-width="0" font-weight="bold">E</text>
<line x1="207.8" y1="173.4" x2="207.8" y2="266" stroke="#2a2a2a" stroke-width="1.1"/>
<line x1="204.8" y1="263" x2="207.8" y2="263" stroke="#2a2a2a" stroke-width="1.1"/>
<text x="201.3" y="264.98" font-size="5.3" text-anchor="end" fill="#000" stroke="#000" stroke-width="0.25" font-weight="normal">0.0</text>
<line x1="204.8" y1="245.08" x2="207.8" y2="245.08" stroke="#2a2a2a" stroke-width="1.1"/>
<text x="201.3" y="247.06" font-size="5.3" text-anchor="end" fill="#000" stroke="#000" stroke-width="0.25" font-weight="normal">0.2</text>
<line x1="204.8" y1="227.16" x2="207.8" y2="227.16" stroke="#2a2a2a" stroke-width="1.1"/>
<text x="201.3" y="229.14" font-size="5.3" text-anchor="end" fill="#000" stroke="#000" stroke-width="0.25" font-weight="normal">0.4</text>
<line x1="204.8" y1="209.24" x2="207.8" y2="209.24" stroke="#2a2a2a" stroke-width="1.1"/>
<text x="201.3" y="211.22" font-size="5.3" text-anchor="end" fill="#000" stroke="#000" stroke-width="0.25" font-weight="normal">0.6</text>
<line x1="204.8" y1="191.32" x2="207.8" y2="191.32" stroke="#2a2a2a" stroke-width="1.1"/>
<text x="201.3" y="193.3" font-size="5.3" text-anchor="end" fill="#000" stroke="#000" stroke-width="0.25" font-weight="normal">0.8</text>
<line x1="204.8" y1="173.4" x2="207.8" y2="173.4" stroke="#2a2a2a" stroke-width="1.1"/>
<text x="201.3" y="175.38" font-size="5.3" text-anchor="end" fill="#000" stroke="#000" stroke-width="0.25" font-weight="normal">1.0</text>
<line x1="204.8" y1="263" x2="334.9" y2="263" stroke="#2a2a2a" stroke-width="1.1"/>
<line x1="207.8" y1="263" x2="207.8" y2="266" stroke="#2a2a2a" stroke-width="1.1"/>
<text x="207.8" y="276.43" font-size="5.3" text-anchor="middle" fill="#000" stroke="#000" stroke-width="0.25" font-weight="normal">0</text>
<line x1="250.17" y1="263" x2="250.17" y2="266" stroke="#2a2a2a" stroke-width="1.1"/>
<text x="250.17" y="276.43" font-size="5.3" text-anchor="middle" fill="#000" stroke="#000" stroke-width="0.25" font-weight="normal">365</text>
<line x1="292.53" y1="263" x2="292.53" y2="266" stroke="#2a2a2a" stroke-width="1.1"/>
<text x="292.53" y="276.43" font-size="5.3" text-anchor="middle" fill="#000" stroke="#000" stroke-width="0.25" font-weight="normal">730</text>
<line x1="334.9" y1="263" x2="334.9" y2="266" stroke="#2a2a2a" stroke-width="1.1"/>
<text x="334.9" y="276.43" font-size="5.3" text-anchor="middle" fill="#000" stroke="#000" stroke-width="0.25" font-weight="normal">1095</text>
<text x="271.8" y="284.08" font-size="5.3" text-anchor="middle" fill="#000" stroke="#000" stroke-width="0.25" font-weight="normal">days</text>
<text x="0" y="0" font-size="5.3" text-anchor="middle" fill="#000" stroke="#000" stroke-width="0.3" transform="translate(191.5 218.2) rotate(-90)">Probability</text>
<path d="M310.41 259.86H310.41V248.66H334.9" fill="none" stroke="#4a4a4a" stroke-width="1" stroke-dasharray="2.8 2.5"/>
<path d="M266.53 263H266.53V258.79H316.33" fill="none" stroke="#e08c98" stroke-width="1.1" stroke-dasharray="2.8 2.5"/>
<path d="M207.8 263H218.59V260.67H222.66V257.8H232.41V254.94H238.21V251.62H238.79V246.87H240.3V244.18H242.62V241.05H244.71V239.26H247.38V237.02H277.44V230.21H334.9" fill="none" stroke="#303030" stroke-width="1.1"/>
<path d="M207.8 263H216.62V261.39H218.94V258.97H222.19V252.25H222.89V246.87H223.82V240.6H231.83V236.12H233.34V232.54H235.66V229.85H238.56V227.16H240.3V224.47H242.04V222.68H245.29V218.2H248.43V215.51H251.91V213.72H258.64V210.14H262.35V207.9H267.23V205.66H309.6V195.35H316.33V177.88" fill="none" stroke="#cf6676" stroke-width="1.1"/>
<path d="M207.8 263H208.15V253.14H208.61V243.02H210.24V232.54H211.75V223.58H214.18V220.89H215.46V213.09H216.97V203.6H218.13V193.29H228.69V182.99H241.11V173.4" fill="none" stroke="#80b680" stroke-width="1.1"/>
<line x1="270.3" y1="179.2" x2="279.4" y2="179.2" stroke="#303030" stroke-width="1.1"/>
<text x="283.4" y="181.08" font-size="4.9" text-anchor="start" fill="#000" stroke="#000" stroke-width="0.25" font-weight="normal">neg. relapse</text>
<line x1="270.3" y1="184.95" x2="279.4" y2="184.95" stroke="#cf6676" stroke-width="1.1"/>
<text x="283.4" y="186.83" font-size="4.9" text-anchor="start" fill="#000" stroke="#000" stroke-width="0.25" font-weight="normal">&lt;=5% relapse</text>
<line x1="270.3" y1="190.7" x2="279.4" y2="190.7" stroke="#80b680" stroke-width="1.1"/>
<text x="283.4" y="192.58" font-size="4.9" text-anchor="start" fill="#000" stroke="#000" stroke-width="0.25" font-weight="normal">&gt;5% relapse</text>
<line x1="270.3" y1="196.45" x2="279.4" y2="196.45" stroke="#303030" stroke-width="1.1" stroke-dasharray="2.8 2.5"/>
<text x="283.4" y="198.33" font-size="4.9" text-anchor="start" fill="#000" stroke="#000" stroke-width="0.25" font-weight="normal">neg. death</text>
<line x1="270.3" y1="202.2" x2="279.4" y2="202.2" stroke="#e08c98" stroke-width="1.1" stroke-dasharray="2.8 2.5"/>
<text x="283.4" y="204.08" font-size="4.9" text-anchor="start" fill="#000" stroke="#000" stroke-width="0.25" font-weight="normal">&lt;=5% death</text>
<line x1="270.3" y1="207.95" x2="279.4" y2="207.95" stroke="#9acc9a" stroke-width="1.1" stroke-dasharray="2.8 2.5"/>
<text x="283.4" y="209.83" font-size="4.9" text-anchor="start" fill="#000" stroke="#000" stroke-width="0.25" font-weight="normal">&gt;5% death</text>
<text x="265.3" y="247.08" font-size="5.05" text-anchor="start" fill="#000" stroke="#000" stroke-width="0.25" font-weight="normal">p-value= &lt;0.001</text>
<text x="186.6" y="295.78" font-size="5.3" text-anchor="middle" fill="#303030" stroke="#303030" stroke-width="0.3" font-weight="bold">neg</text>
<text x="207.8" y="295.78" font-size="5.3" text-anchor="middle" fill="#303030" stroke="#303030" stroke-width="0.3" font-weight="bold">39</text>
<text x="250.17" y="295.78" font-size="5.3" text-anchor="middle" fill="#303030" stroke="#303030" stroke-width="0.3" font-weight="bold">14</text>
<text x="292.53" y="295.78" font-size="5.3" text-anchor="middle" fill="#303030" stroke="#303030" stroke-width="0.3" font-weight="bold">5</text>
<text x="334.9" y="295.78" font-size="5.3" text-anchor="middle" fill="#303030" stroke="#303030" stroke-width="0.3" font-weight="bold">2</text>
<text x="186.6" y="302.18" font-size="5.3" text-anchor="middle" fill="#c84656" stroke="#c84656" stroke-width="0.3" font-weight="bold">&lt;=5%</text>
<text x="207.8" y="302.18" font-size="5.3" text-anchor="middle" fill="#c84656" stroke="#c84656" stroke-width="0.3" font-weight="bold">28</text>
<text x="250.17" y="302.18" font-size="5.3" text-anchor="middle" fill="#c84656" stroke="#c84656" stroke-width="0.3" font-weight="bold">11</text>
<text x="292.53" y="302.18" font-size="5.3" text-anchor="middle" fill="#c84656" stroke="#c84656" stroke-width="0.3" font-weight="bold">4</text>
<text x="334.9" y="302.18" font-size="5.3" text-anchor="middle" fill="#c84656" stroke="#c84656" stroke-width="0.3" font-weight="bold">0</text>
<text x="186.6" y="308.58" font-size="5.3" text-anchor="middle" fill="#5aaa5a" stroke="#5aaa5a" stroke-width="0.3" font-weight="bold">&gt;5%</text>
<text x="207.8" y="308.58" font-size="5.3" text-anchor="middle" fill="#5aaa5a" stroke="#5aaa5a" stroke-width="0.3" font-weight="bold">9</text>
<text x="250.17" y="308.58" font-size="5.3" text-anchor="middle" fill="#5aaa5a" stroke="#5aaa5a" stroke-width="0.3" font-weight="bold">0</text>
<text x="292.53" y="308.58" font-size="5.3" text-anchor="middle" fill="#5aaa5a" stroke="#5aaa5a" stroke-width="0.3" font-weight="bold">0</text>
<text x="334.9" y="308.58" font-size="5.3" text-anchor="middle" fill="#5aaa5a" stroke="#5aaa5a" stroke-width="0.3" font-weight="bold">0</text>
<text x="353.9" y="180.18" font-size="11.6" text-anchor="start" fill="#000" stroke="#000" stroke-width="0" font-weight="bold">F</text>
<line x1="383.9" y1="173.3" x2="383.9" y2="266.2" stroke="#2a2a2a" stroke-width="1.1"/>
<line x1="380.9" y1="263.2" x2="383.9" y2="263.2" stroke="#2a2a2a" stroke-width="1.1"/>
<text x="377.4" y="265.18" font-size="5.3" text-anchor="end" fill="#000" stroke="#000" stroke-width="0.25" font-weight="normal">0.0</text>
<line x1="380.9" y1="245.22" x2="383.9" y2="245.22" stroke="#2a2a2a" stroke-width="1.1"/>
<text x="377.4" y="247.2" font-size="5.3" text-anchor="end" fill="#000" stroke="#000" stroke-width="0.25" font-weight="normal">0.2</text>
<line x1="380.9" y1="227.24" x2="383.9" y2="227.24" stroke="#2a2a2a" stroke-width="1.1"/>
<text x="377.4" y="229.22" font-size="5.3" text-anchor="end" fill="#000" stroke="#000" stroke-width="0.25" font-weight="normal">0.4</text>
<line x1="380.9" y1="209.26" x2="383.9" y2="209.26" stroke="#2a2a2a" stroke-width="1.1"/>
<text x="377.4" y="211.24" font-size="5.3" text-anchor="end" fill="#000" stroke="#000" stroke-width="0.25" font-weight="normal">0.6</text>
<line x1="380.9" y1="191.28" x2="383.9" y2="191.28" stroke="#2a2a2a" stroke-width="1.1"/>
<text x="377.4" y="193.26" font-size="5.3" text-anchor="end" fill="#000" stroke="#000" stroke-width="0.25" font-weight="normal">0.8</text>
<line x1="380.9" y1="173.3" x2="383.9" y2="173.3" stroke="#2a2a2a" stroke-width="1.1"/>
<text x="377.4" y="175.28" font-size="5.3" text-anchor="end" fill="#000" stroke="#000" stroke-width="0.25" font-weight="normal">1.0</text>
<line x1="380.9" y1="263.2" x2="511.7" y2="263.2" stroke="#2a2a2a" stroke-width="1.1"/>
<line x1="383.9" y1="263.2" x2="383.9" y2="266.2" stroke="#2a2a2a" stroke-width="1.1"/>
<text x="383.9" y="276.63" font-size="5.3" text-anchor="middle" fill="#000" stroke="#000" stroke-width="0.25" font-weight="normal">0</text>
<line x1="426.5" y1="263.2" x2="426.5" y2="266.2" stroke="#2a2a2a" stroke-width="1.1"/>
<text x="426.5" y="276.63" font-size="5.3" text-anchor="middle" fill="#000" stroke="#000" stroke-width="0.25" font-weight="normal">365</text>
<line x1="469.1" y1="263.2" x2="469.1" y2="266.2" stroke="#2a2a2a" stroke-width="1.1"/>
<text x="469.1" y="276.63" font-size="5.3" text-anchor="middle" fill="#000" stroke="#000" stroke-width="0.25" font-weight="normal">730</text>
<line x1="511.7" y1="263.2" x2="511.7" y2="266.2" stroke="#2a2a2a" stroke-width="1.1"/>
<text x="511.7" y="276.63" font-size="5.3" text-anchor="middle" fill="#000" stroke="#000" stroke-width="0.25" font-weight="normal">1095</text>
<text x="447.9" y="284.28" font-size="5.3" text-anchor="middle" fill="#000" stroke="#000" stroke-width="0.25" font-weight="normal">days</text>
<text x="0" y="0" font-size="5.3" text-anchor="middle" fill="#000" stroke="#000" stroke-width="0.3" transform="translate(367.6 218.25) rotate(-90)">Probability</text>
<path d="M487.07 260.05H487.07V248.82H511.7" fill="none" stroke="#4a4a4a" stroke-width="1" stroke-dasharray="2.8 2.5"/>
<path d="M442.96 263.2H442.96V258.97H493.03" fill="none" stroke="#e08c98" stroke-width="1.1" stroke-dasharray="2.8 2.5"/>
<path d="M383.9 263.2H394.75V260.86H398.84V257.99H408.64V255.11H414.48V251.78H415.06V247.02H416.58V244.32H418.91V241.17H421.01V239.38H423.7V237.13H453.93V230.3H511.7" fill="none" stroke="#303030" stroke-width="1.1"/>
<path d="M383.9 263.2H392.42V261.4H395.57V259.6H398.02V257.36H398.49V248.82H400.36V244.59H401.64V240.72H407.59V236.59H409.93V234.43H411.91V230.84H414.01V228.59H415.88V226.34H418.33V223.1H420.66V220.05H423.12V216.45H427.9V212.86H431.17V210.61H435.02V208.36H438.75V206.56H442.26V204.76H450.31V202.97H486.14V195.06H492.79V177.44" fill="none" stroke="#cf6676" stroke-width="1.1"/>
<path d="M383.9 263.2H384.25V250.61H384.48V238.93H386V230.84H387.28V228.59H388.45V221.4H389.97V215.01H391.25V207.19H392.65V196.22H393.94V192.63H394.87V184.54H404.44V173.3" fill="none" stroke="#80b680" stroke-width="1.1"/>
<line x1="423.1" y1="179.2" x2="432.2" y2="179.2" stroke="#303030" stroke-width="1.1"/>
<text x="436.2" y="181.08" font-size="4.9" text-anchor="start" fill="#000" stroke="#000" stroke-width="0.25" font-weight="normal">neg. relapse</text>
<line x1="423.1" y1="184.95" x2="432.2" y2="184.95" stroke="#cf6676" stroke-width="1.1"/>
<text x="436.2" y="186.83" font-size="4.9" text-anchor="start" fill="#000" stroke="#000" stroke-width="0.25" font-weight="normal">&lt;=10% relapse</text>
<line x1="423.1" y1="190.7" x2="432.2" y2="190.7" stroke="#80b680" stroke-width="1.1"/>
<text x="436.2" y="192.58" font-size="4.9" text-anchor="start" fill="#000" stroke="#000" stroke-width="0.25" font-weight="normal">&gt;10% relapse</text>
<line x1="423.1" y1="196.45" x2="432.2" y2="196.45" stroke="#303030" stroke-width="1.1" stroke-dasharray="2.8 2.5"/>
<text x="436.2" y="198.33" font-size="4.9" text-anchor="start" fill="#000" stroke="#000" stroke-width="0.25" font-weight="normal">neg. death</text>
<line x1="423.1" y1="202.2" x2="432.2" y2="202.2" stroke="#e08c98" stroke-width="1.1" stroke-dasharray="2.8 2.5"/>
<text x="436.2" y="204.08" font-size="4.9" text-anchor="start" fill="#000" stroke="#000" stroke-width="0.25" font-weight="normal">&lt;=10% death</text>
<line x1="423.1" y1="207.95" x2="432.2" y2="207.95" stroke="#9acc9a" stroke-width="1.1" stroke-dasharray="2.8 2.5"/>
<text x="436.2" y="209.83" font-size="4.9" text-anchor="start" fill="#000" stroke="#000" stroke-width="0.25" font-weight="normal">&gt;10% death</text>
<text x="441.6" y="246.98" font-size="5.05" text-anchor="start" fill="#000" stroke="#000" stroke-width="0.25" font-weight="normal">p-value= &lt;0.001</text>
<text x="363" y="295.78" font-size="5.3" text-anchor="middle" fill="#303030" stroke="#303030" stroke-width="0.3" font-weight="bold">neg</text>
<text x="383.9" y="295.78" font-size="5.3" text-anchor="middle" fill="#303030" stroke="#303030" stroke-width="0.3" font-weight="bold">39</text>
<text x="426.5" y="295.78" font-size="5.3" text-anchor="middle" fill="#303030" stroke="#303030" stroke-width="0.3" font-weight="bold">14</text>
<text x="469.1" y="295.78" font-size="5.3" text-anchor="middle" fill="#303030" stroke="#303030" stroke-width="0.3" font-weight="bold">5</text>
<text x="511.7" y="295.78" font-size="5.3" text-anchor="middle" fill="#303030" stroke="#303030" stroke-width="0.3" font-weight="bold">2</text>
<text x="363" y="302.23" font-size="5.3" text-anchor="middle" fill="#c84656" stroke="#c84656" stroke-width="0.3" font-weight="bold">&lt;=10%</text>
<text x="383.9" y="302.23" font-size="5.3" text-anchor="middle" fill="#c84656" stroke="#c84656" stroke-width="0.3" font-weight="bold">29</text>
<text x="426.5" y="302.23" font-size="5.3" text-anchor="middle" fill="#c84656" stroke="#c84656" stroke-width="0.3" font-weight="bold">11</text>
<text x="469.1" y="302.23" font-size="5.3" text-anchor="middle" fill="#c84656" stroke="#c84656" stroke-width="0.3" font-weight="bold">4</text>
<text x="511.7" y="302.23" font-size="5.3" text-anchor="middle" fill="#c84656" stroke="#c84656" stroke-width="0.3" font-weight="bold">0</text>
<text x="363" y="308.68" font-size="5.3" text-anchor="middle" fill="#5aaa5a" stroke="#5aaa5a" stroke-width="0.3" font-weight="bold">&gt;10%</text>
<text x="383.9" y="308.68" font-size="5.3" text-anchor="middle" fill="#5aaa5a" stroke="#5aaa5a" stroke-width="0.3" font-weight="bold">8</text>
<text x="426.5" y="308.68" font-size="5.3" text-anchor="middle" fill="#5aaa5a" stroke="#5aaa5a" stroke-width="0.3" font-weight="bold">0</text>
<text x="469.1" y="308.68" font-size="5.3" text-anchor="middle" fill="#5aaa5a" stroke="#5aaa5a" stroke-width="0.3" font-weight="bold">0</text>
<text x="511.7" y="308.68" font-size="5.3" text-anchor="middle" fill="#5aaa5a" stroke="#5aaa5a" stroke-width="0.3" font-weight="bold">0</text>
</svg>
</body></html>
